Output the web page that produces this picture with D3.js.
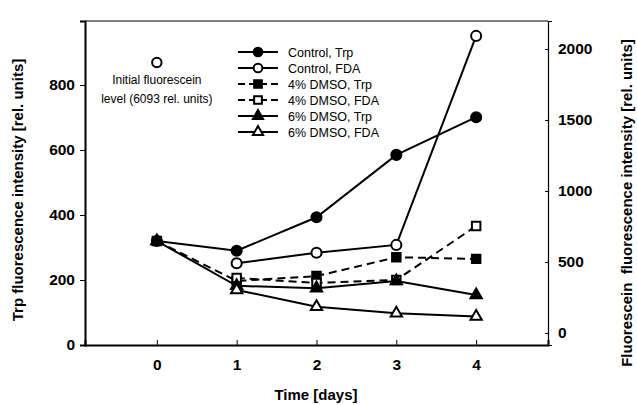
<!DOCTYPE html>
<html>
<head>
<meta charset="utf-8">
<script src="https://cdn.jsdelivr.net/npm/d3@7"></script>
<style>
  body { margin: 0; background: #fff; }
  text { font-family: "Liberation Sans", Arial, sans-serif; }
</style>
</head>
<body>
<script>
// data
var days = [0, 1, 2, 3, 4];
var leftTicks = [0, 200, 400, 600, 800];
var rightTicks = [0, 500, 1000, 1500, 2000];

// Trp series (left axis)
var controlTrp = [320, 290, 393, 585, 701];
var dmso4Trp = [320, 197, 212, 270, 265];
var dmso6Trp = [320, 182, 175, 197, 154];

// FDA series (right axis), no value at day 0
var controlFDA = [null, 491, 565, 620, 2092];
var dmso4FDA = [null, 387, 352, 373, 753];
var dmso6FDA = [null, 303, 185, 139, 115];

var initialFDA = { day: 0, value: 1905 };

var margin = { top: 21, right: 89, bottom: 60, left: 85 };
var width = 637 - margin.left - margin.right;
var height = 405 - margin.top - margin.bottom;

var svg = d3.select('body').append('svg')
	.attr('width', 637)
	.attr('height', 405);

var g = svg.append('g')
	.attr('transform', `translate(${margin.left}, ${margin.top})`);

var xScale = d3.scaleLinear().domain([-0.9, 4.9]).range([0, width]);
var yLeft = d3.scaleLinear().domain([0, 997]).range([height, 0]);
var yRight = d3.scaleLinear().domain([-85, 2197]).range([height, 0]);

var series = [
	{ name: 'Control, Trp', vals: controlTrp, y: yLeft, dash: null, marker: 'circle', fill: '#000' },
	{ name: 'Control, FDA', vals: controlFDA, y: yRight, dash: null, marker: 'circle', fill: '#fff' },
	{ name: '4% DMSO, Trp', vals: dmso4Trp, y: yLeft, dash: '8,5', marker: 'square', fill: '#000' },
	{ name: '4% DMSO, FDA', vals: dmso4FDA, y: yRight, dash: '8,5', marker: 'square', fill: '#fff' },
	{ name: '6% DMSO, Trp', vals: dmso6Trp, y: yLeft, dash: null, marker: 'triangle', fill: '#000' },
	{ name: '6% DMSO, FDA', vals: dmso6FDA, y: yRight, dash: null, marker: 'triangle', fill: '#fff' }
];

var types = { circle: d3.symbolCircle, square: d3.symbolSquare, triangle: d3.symbolTriangle };
var sizes = { circle: 80, square: 72, triangle: 55 };

function boldTicks(a) {
	a.selectAll('text').attr('font-size', 15.5).attr('font-weight', 'bold');
}

// axes
g.append('g')
	.attr('transform', `translate(0, ${height})`)
	.call(d3.axisBottom(xScale).tickValues(days).tickSize(-5).tickPadding(14).tickFormat(d3.format('d')))
	.call(function(a) {
		a.select('.domain').attr('stroke-width', 2);
		boldTicks(a);
	});

g.append('g')
	.call(d3.axisLeft(yLeft).tickValues(leftTicks).tickSize(5).tickPadding(5))
	.call(function(a) {
		a.select('.domain').attr('stroke-width', 2);
		boldTicks(a);
	});

g.append('g')
	.attr('transform', `translate(${width}, 0)`)
	.call(d3.axisRight(yRight).tickValues(rightTicks).tickSize(4).tickPadding(6).tickFormat(d3.format('d')))
	.call(function(a) {
		a.select('.domain').attr('stroke-width', 1.2);
		a.selectAll('.tick line').attr('transform', 'translate(-3,0)');
		boldTicks(a);
	});

// top frame line
g.append('line')
	.attr('x1', 0).attr('x2', width)
	.attr('y1', 0).attr('y2', 0)
	.attr('stroke', '#000').attr('stroke-width', 1.2);

// lines
series.forEach(function(s) {
	var pts = days.map(function(d, i) { return { d: d, v: s.vals[i] }; })
		.filter(function(p) { return p.v !== null; });
	var line = d3.line()
		.x(function(p) { return xScale(p.d); })
		.y(function(p) { return s.y(p.v); });
	g.append('path')
		.datum(pts)
		.attr('fill', 'none')
		.attr('stroke', '#000')
		.attr('stroke-width', 2)
		.attr('stroke-dasharray', s.dash)
		.attr('d', line);
	s.pts = pts;
});

// markers drawn after all lines
series.forEach(function(s) {
	g.selectAll(null)
		.data(s.pts)
		.enter().append('path')
		.attr('transform', function(p) { return `translate(${xScale(p.d)}, ${s.y(p.v)})`; })
		.attr('d', d3.symbol().type(types[s.marker]).size(sizes[s.marker]))
		.attr('fill', s.fill)
		.attr('stroke', '#000')
		.attr('stroke-width', 2);
});

// initial fluorescein marker + note
g.append('path')
	.attr('transform', `translate(${xScale(initialFDA.day)}, ${yRight(initialFDA.value)})`)
	.attr('d', d3.symbol().type(d3.symbolCircle).size(70))
	.attr('fill', '#fff')
	.attr('stroke', '#000')
	.attr('stroke-width', 2);

g.append('text')
	.attr('x', xScale(0)).attr('y', 63)
	.attr('text-anchor', 'middle').attr('font-size', 12)
	.text('Initial fluorescein');
g.append('text')
	.attr('x', xScale(0)).attr('y', 82)
	.attr('text-anchor', 'middle').attr('font-size', 12)
	.text('level (6093 rel. units)');

// legend
var legend = g.append('g').attr('transform', 'translate(153, 31)');
series.forEach(function(s, i) {
	var row = legend.append('g').attr('transform', `translate(0, ${i * 16})`);
	row.append('line')
		.attr('x1', 0).attr('x2', 40)
		.attr('stroke', '#000').attr('stroke-width', 2)
		.attr('stroke-dasharray', s.dash ? '7,4' : null);
	row.append('path')
		.attr('transform', 'translate(20, 0)')
		.attr('d', d3.symbol().type(types[s.marker]).size(s.marker === 'triangle' ? 45 : 60))
		.attr('fill', s.fill).attr('stroke', '#000').attr('stroke-width', 2);
	row.append('text')
		.attr('x', 50).attr('y', 4.5)
		.attr('font-size', 12.5)
		.text(s.name);
});

// axis titles
svg.append('text')
	.attr('transform', 'translate(23, 190) rotate(-90)')
	.attr('text-anchor', 'middle')
	.attr('font-size', 15).attr('font-weight', 'bold')
	.text('Trp fluorescence intensity [rel. units]');

svg.append('text')
	.attr('transform', 'translate(632, 203) rotate(-90)')
	.attr('text-anchor', 'middle')
	.attr('font-size', 15).attr('font-weight', 'bold')
	.style('white-space', 'pre')
	.text('Fluorescein  fluorescence intensity [rel. units]');

svg.append('text')
	.attr('x', 316).attr('y', 400)
	.attr('text-anchor', 'middle')
	.attr('font-size', 15).attr('font-weight', 'bold')
	.text('Time [days]');
</script>
</body>
</html>
